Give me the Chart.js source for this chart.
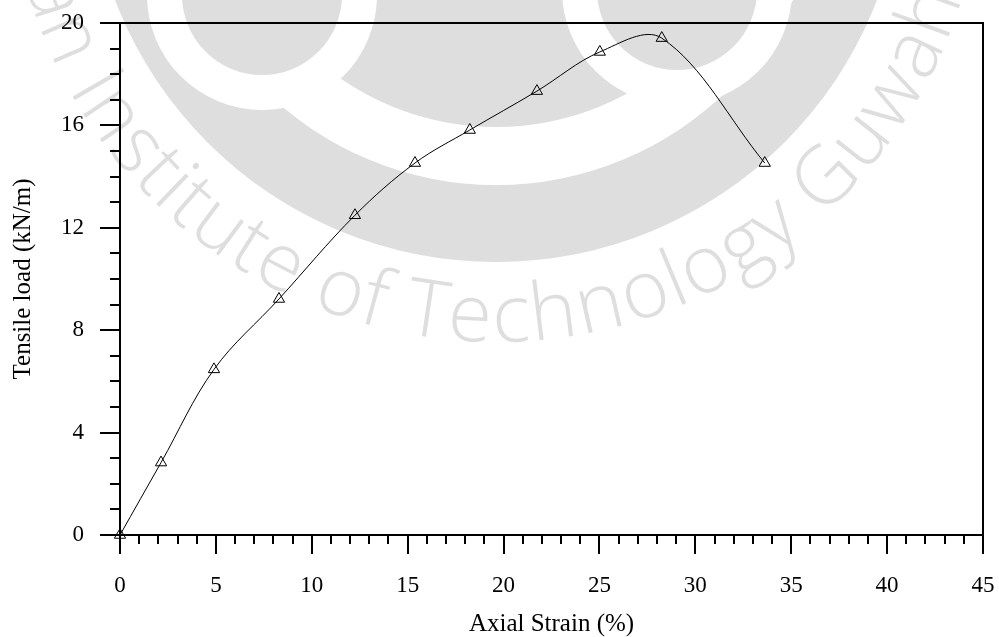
<!DOCTYPE html>
<html lang="en">
<head>
    <meta charset="UTF-8">
    <title>Tensile load vs Axial Strain</title>
    <script src="https://cdn.jsdelivr.net/npm/chart.js@4.4.0/dist/chart.umd.min.js"></script>
    <style>
        html, body { margin: 0; padding: 0; background: #fff; }
    </style>
</head>
<body>
    <canvas id="chart" width="999" height="637"></canvas>

    <script>
        // values
        const strain = [0, 2.14, 4.9, 8.29, 12.25, 15.38, 18.24, 21.74, 25.02, 28.25, 33.62];
        const load = [0, 2.83, 6.47, 9.22, 12.49, 14.53, 15.82, 17.34, 18.87, 19.41, 14.53];
        const xTicks = [0, 5, 10, 15, 20, 25, 30, 35, 40, 45];
        const yTicks = [0, 4, 8, 12, 16, 20];
        const minorStep = 1;

        const serif = "'Liberation Serif', 'Times New Roman', serif";

        // faint institute logo behind the plot
        const watermark = {
            id: 'watermark',
            beforeDraw(chart) {
                const ctx = chart.ctx;
                const gray = '#dedede';
                const cx = 496, cy = -146;
                const disk = (x, y, r, c) => {
                    ctx.beginPath();
                    ctx.arc(x, y, r, 0, Math.PI * 2);
                    ctx.fillStyle = c;
                    ctx.fill();
                };
                ctx.save();
                disk(cx, cy, 408, gray);
                disk(cx, cy, 331, '#fff');
                disk(cx, cy, 273, gray);
                disk(262, -5, 115, '#fff');
                disk(677, -10, 115, '#fff');
                disk(262, -5, 80, gray);
                disk(677, -10, 80, gray);

                ctx.fillStyle = gray;
                ctx.font = "300 80px 'Open Sans', 'DejaVu Sans', sans-serif";
                ctx.textAlign = 'center';
                ctx.textBaseline = 'middle';
                const text = 'Indian Institute of Technology Guwahati';
                const r = 465;
                const w = s => ctx.measureText(s).width;
                const k = text.indexOf('Technology');
                const anchor = w(text.slice(0, k)) + w('T') / 2;
                const th0 = 98.5 * Math.PI / 180;
                for (let i = 0; i < text.length; i++) {
                    const ch = text[i];
                    if (ch === ' ') continue;
                    const mid = w(text.slice(0, i)) + w(ch) / 2;
                    const th = th0 - (mid - anchor) / r;
                    ctx.save();
                    ctx.translate(cx + r * Math.cos(th), cy + r * Math.sin(th));
                    ctx.rotate(th - Math.PI / 2);
                    ctx.fillText(ch, 0, 0);
                    ctx.restore();
                }
                ctx.restore();
            }
        };

        // minor ticks + top/right frame
        const frame = {
            id: 'frame',
            afterDraw(chart) {
                const { ctx, chartArea: a } = chart;
                const x = chart.scales.x, y = chart.scales.y;
                ctx.save();
                ctx.strokeStyle = '#000';
                ctx.lineWidth = 2;
                ctx.beginPath();
                for (let v = minorStep; v < 45; v += minorStep) {
                    if (v % 5 === 0) continue;
                    const px = Math.round(x.getPixelForValue(v));
                    ctx.moveTo(px, a.bottom);
                    ctx.lineTo(px, a.bottom + 9);
                }
                for (let v = minorStep; v < 20; v += minorStep) {
                    if (v % 4 === 0) continue;
                    const py = Math.round(y.getPixelForValue(v));
                    ctx.moveTo(a.left - 10, py);
                    ctx.lineTo(a.left, py);
                }
                ctx.moveTo(a.left, a.top);
                ctx.lineTo(a.right, a.top);
                ctx.lineTo(a.right, a.bottom);
                ctx.stroke();
                ctx.restore();
            }
        };

        const ctx = document.getElementById('chart').getContext('2d');
        new Chart(ctx, {
            type: 'scatter',
            data: {
                datasets: [{
                    data: strain.map((s, i) => ({ x: s, y: load[i] })),
                    showLine: true,
                    tension: 0.35,
                    borderColor: '#000',
                    borderWidth: 1,
                    pointStyle: 'triangle',
                    pointRadius: 6.5,
                    pointBorderColor: '#000',
                    pointBackgroundColor: 'rgba(0,0,0,0)',
                    pointBorderWidth: 1,
                    clip: false
                }]
            },
            options: {
                responsive: false,
                animation: false,
                layout: { padding: { left: 0, right: 16, top: 23, bottom: 0 } },
                plugins: {
                    legend: { display: false },
                    tooltip: { enabled: false }
                },
                scales: {
                    x: {
                        type: 'linear',
                        min: 0,
                        max: 45,
                        afterBuildTicks: s => { s.ticks = xTicks.map(v => ({ value: v })); },
                        afterFit: s => { s.height = 102; s.paddingLeft = 0; s.paddingRight = 0; },
                        grid: { drawOnChartArea: false, tickLength: 19, color: '#000', lineWidth: 2 },
                        border: { color: '#000', width: 2 },
                        ticks: {
                            color: '#000',
                            font: { family: serif, size: 23, lineHeight: 1 },
                            padding: 20,
                            maxRotation: 0,
                            autoSkip: false
                        },
                        title: {
                            display: true,
                            text: 'Axial Strain (%)',
                            color: '#000',
                            font: { family: serif, size: 25, lineHeight: 1 },
                            padding: { top: 0, bottom: 0 }
                        }
                    },
                    y: {
                        type: 'linear',
                        min: 0,
                        max: 20,
                        afterBuildTicks: s => { s.ticks = yTicks.map(v => ({ value: v })); },
                        afterFit: s => { s.width = 120; s.paddingTop = 0; s.paddingBottom = 0; },
                        grid: { drawOnChartArea: false, tickLength: 20, color: '#000', lineWidth: 2 },
                        border: { color: '#000', width: 2 },
                        ticks: {
                            color: '#000',
                            font: { family: serif, size: 23, lineHeight: 1 },
                            padding: 16
                        },
                        title: {
                            display: true,
                            text: 'Tensile load (kN/m)',
                            color: '#000',
                            font: { family: serif, size: 25, lineHeight: 1 },
                            padding: { top: 11, bottom: 0 }
                        }
                    }
                }
            },
            plugins: [watermark, frame]
        });
    </script>
</body>
</html>
